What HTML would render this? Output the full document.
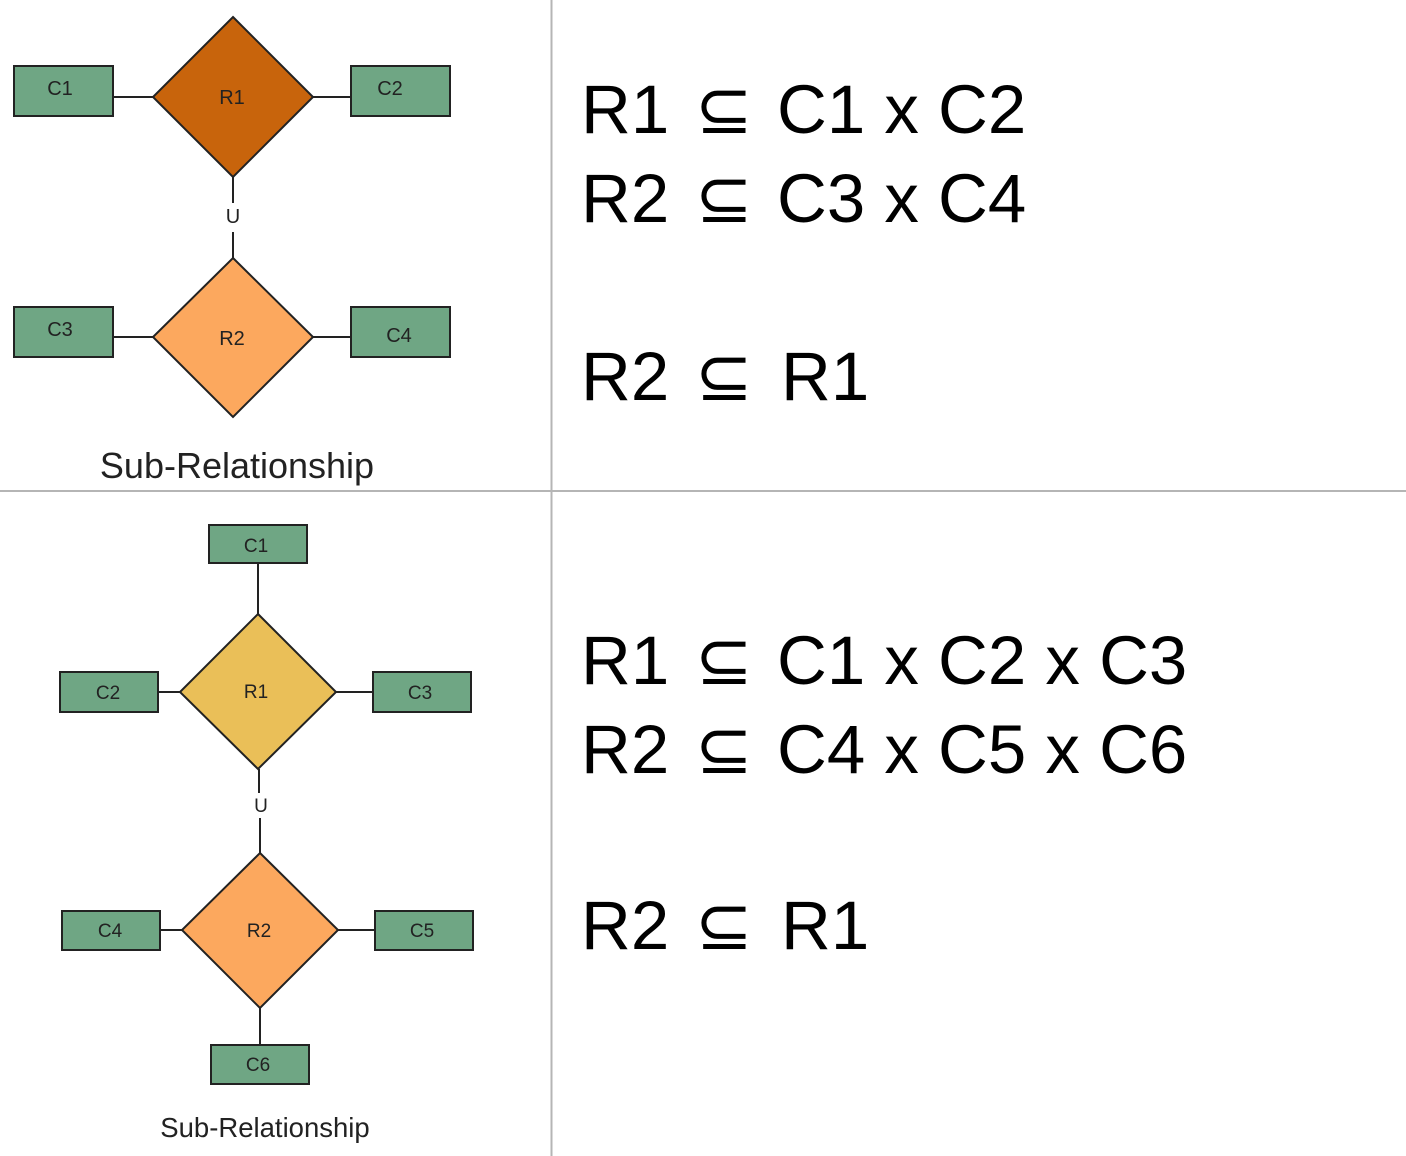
<!DOCTYPE html>
<html><head><meta charset="utf-8"><style>
html,body{margin:0;padding:0;background:#fff;}
svg{display:block;}
</style></head><body>
<svg width="1406" height="1156" viewBox="0 0 1406 1156" xmlns="http://www.w3.org/2000/svg" font-family="Liberation Sans, Arial, sans-serif">
<rect width="1406" height="1156" fill="#fff"/>
<line x1="551.5" y1="0" x2="551.5" y2="1156" stroke="#b5b5b5" stroke-width="2"/>
<line x1="0" y1="491" x2="1406" y2="491" stroke="#b5b5b5" stroke-width="2"/>
<g stroke="#222" stroke-width="2">
<line x1="113" y1="97" x2="153" y2="97"/>
<line x1="313" y1="97" x2="351" y2="97"/>
<line x1="233" y1="177" x2="233" y2="203"/>
<line x1="233" y1="232" x2="233" y2="258"/>
<line x1="113" y1="337" x2="153" y2="337"/>
<line x1="313" y1="337" x2="351" y2="337"/>
</g>
<g stroke="#222" stroke-width="2" fill="#6fa684">
<rect x="14" y="66" width="99" height="50"/>
<rect x="351" y="66" width="99" height="50"/>
<rect x="14" y="307" width="99" height="50"/>
<rect x="351" y="307" width="99" height="50"/>
</g>
<polygon points="233,17 313,97 233,177 153,97" fill="#c8640c" stroke="#222" stroke-width="2"/>
<polygon points="233,258 313,337 233,417 153,337" fill="#fca85e" stroke="#222" stroke-width="2"/>
<g font-size="20" fill="#222" text-anchor="middle">
<text x="60" y="95">C1</text><text x="390" y="95">C2</text>
<text x="232" y="104">R1</text>
<text x="232" y="345">R2</text>
<text x="60" y="336">C3</text><text x="399" y="342">C4</text>
<text x="233" y="223">U</text>
</g>
<text x="237" y="478" font-size="36" fill="#222" text-anchor="middle">Sub-Relationship</text>

<g stroke="#222" stroke-width="2">
<line x1="258" y1="563" x2="258" y2="614"/>
<line x1="158" y1="692" x2="180" y2="692"/>
<line x1="336" y1="692" x2="373" y2="692"/>
<line x1="259" y1="769" x2="259" y2="793"/>
<line x1="260" y1="818" x2="260" y2="853"/>
<line x1="160" y1="930" x2="182" y2="930"/>
<line x1="338" y1="930" x2="375" y2="930"/>
<line x1="260" y1="1008" x2="260" y2="1045"/>
</g>
<g stroke="#222" stroke-width="2" fill="#6fa684">
<rect x="209" y="525" width="98" height="38"/>
<rect x="60" y="672" width="98" height="40"/>
<rect x="373" y="672" width="98" height="40"/>
<rect x="62" y="911" width="98" height="39"/>
<rect x="375" y="911" width="98" height="39"/>
<rect x="211" y="1045" width="98" height="39"/>
</g>
<polygon points="258,614 336,692 258,769 180,692" fill="#eabf58" stroke="#222" stroke-width="2"/>
<polygon points="260,853 338,930 260,1008 182,930" fill="#fca85e" stroke="#222" stroke-width="2"/>
<g font-size="19" fill="#222" text-anchor="middle">
<text x="256" y="552">C1</text>
<text x="108" y="699">C2</text><text x="256" y="698">R1</text><text x="420" y="699">C3</text>
<text x="261" y="812">U</text>
<text x="110" y="937">C4</text><text x="259" y="937">R2</text><text x="422" y="937">C5</text>
<text x="258" y="1071">C6</text>
</g>
<text x="265" y="1137" font-size="27.5" fill="#222" text-anchor="middle">Sub-Relationship</text>

<g font-size="69" fill="#000">
<text y="133"><tspan x="581">R1</tspan><tspan x="695">⊆</tspan><tspan x="777">C1 x C2</tspan></text>
<text y="222"><tspan x="581">R2</tspan><tspan x="695">⊆</tspan><tspan x="777">C3 x C4</tspan></text>
<text y="400"><tspan x="581">R2</tspan><tspan x="695">⊆</tspan><tspan x="781">R1</tspan></text>
<text y="684"><tspan x="581">R1</tspan><tspan x="695">⊆</tspan><tspan x="777">C1 x C2 x C3</tspan></text>
<text y="773"><tspan x="581">R2</tspan><tspan x="695">⊆</tspan><tspan x="777">C4 x C5 x C6</tspan></text>
<text y="949"><tspan x="581">R2</tspan><tspan x="695">⊆</tspan><tspan x="781">R1</tspan></text>
</g>
</svg>
</body></html>
